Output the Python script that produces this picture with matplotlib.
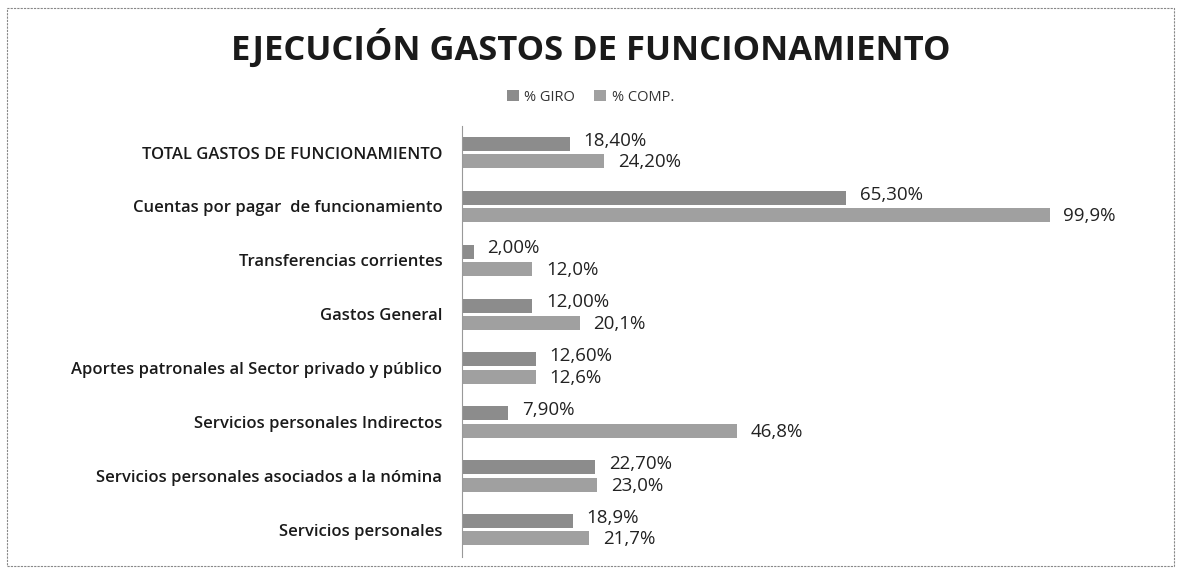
import matplotlib.pyplot as plt
import matplotlib
import numpy as np
from matplotlib.patches import Rectangle

matplotlib.rcParams['font.family'] = ['Open Sans', 'DejaVu Sans']

categorias = [
    "TOTAL GASTOS DE FUNCIONAMIENTO",
    "Cuentas por pagar  de funcionamiento",
    "Transferencias corrientes",
    "Gastos General",
    "Aportes patronales al Sector privado y público",
    "Servicios personales Indirectos",
    "Servicios personales asociados a la nómina",
    "Servicios personales",
]
giro = [18.4, 65.3, 2.0, 12.0, 12.6, 7.9, 22.7, 18.9]
comp = [24.2, 99.9, 12.0, 20.1, 12.6, 46.8, 23.0, 21.7]
giro_txt = ["18,40%", "65,30%", "2,00%", "12,00%", "12,60%", "7,90%", "22,70%", "18,9%"]
comp_txt = ["24,20%", "99,9%", "12,0%", "20,1%", "12,6%", "46,8%", "23,0%", "21,7%"]

COLOR_GIRO = "#8c8c8c"
COLOR_COMP = "#a0a0a0"

fig = plt.figure(figsize=(11.81, 5.71), dpi=100)
ax = fig.add_axes([0.391, 0.025, 0.573, 0.755])

y = np.arange(len(categorias))
h = 0.26
off = 0.16
b1 = ax.barh(y - off, giro, h, color=COLOR_GIRO, label="% GIRO")
b2 = ax.barh(y + off, comp, h, color=COLOR_COMP, label="% COMP.")

# etiquetas de valor
for bar, txt in zip(b1, giro_txt):
    ax.text(bar.get_width() + 2.3, bar.get_y() + bar.get_height() / 2 - 0.06, txt,
            va="center", ha="left", fontsize=13.5, color="#222222")
for bar, txt in zip(b2, comp_txt):
    ax.text(bar.get_width() + 2.3, bar.get_y() + bar.get_height() / 2 + 0.02, txt,
            va="center", ha="left", fontsize=13.5, color="#222222")

ax.set_xlim(0, 115)
ax.set_ylim(len(categorias) - 0.5, -0.5)
ax.set_yticks(y)
ax.set_yticklabels(categorias, fontsize=12, fontweight="semibold", color="#1a1a1a")
ax.tick_params(axis="y", length=0, pad=14)
ax.set_xticks([])
for s in ["top", "right", "bottom"]:
    ax.spines[s].set_visible(False)
ax.spines["left"].set_color("#999999")

fig.text(0.5, 0.915, "EJECUCIÓN GASTOS DE FUNCIONAMIENTO", ha="center", va="center",
         fontsize=24.8, fontweight="bold", color="#1a1a1a")

fig.legend(handles=[b1, b2], loc="center", bbox_to_anchor=(0.5, 0.83), ncol=2,
           frameon=False, fontsize=10.5, handlelength=0.8, handleheight=0.8,
           columnspacing=1.3, handletextpad=0.4, labelcolor="#333333")

# borde punteado del grafico
fig.patches.append(Rectangle((0.006, 0.008), 0.988, 0.978, transform=fig.transFigure,
                             fill=False, edgecolor="#888888", linewidth=0.8,
                             linestyle=(0, (2, 1))))

plt.savefig("out.png", dpi=100)
